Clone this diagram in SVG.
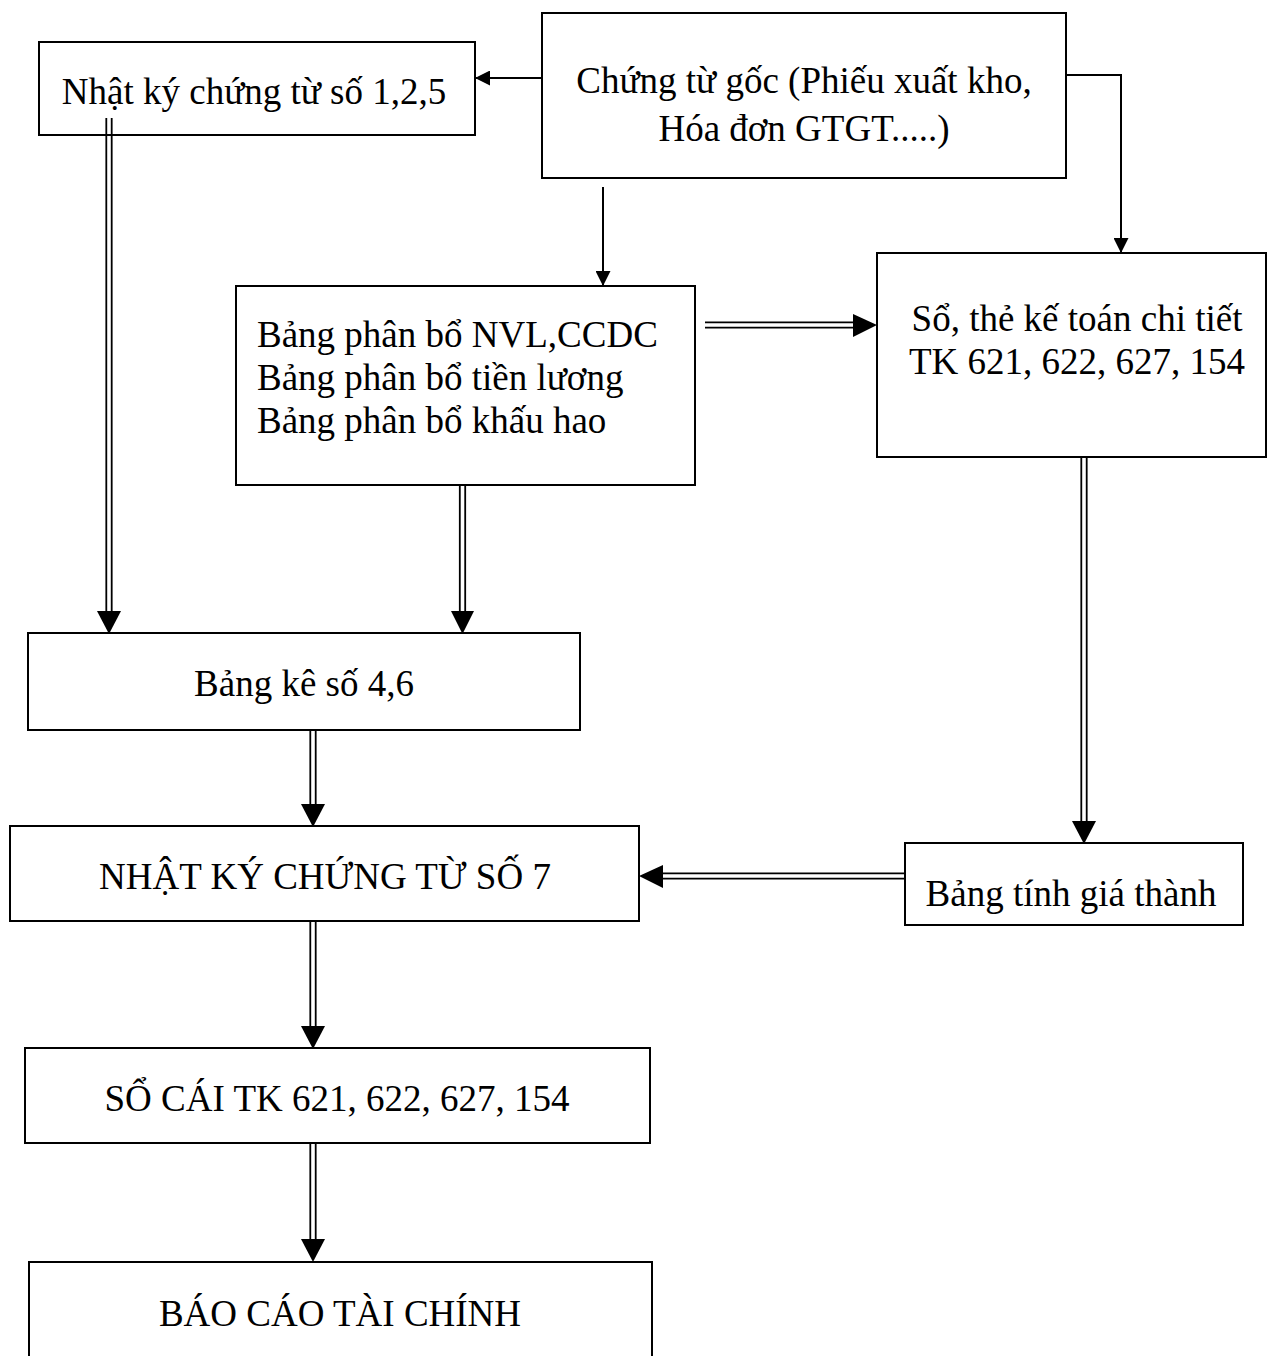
<svg xmlns="http://www.w3.org/2000/svg" width="1268" height="1356" viewBox="0 0 1268 1356">
<style>
.box{fill:#fff;stroke:#000;stroke-width:2}
.t{font-family:"Liberation Serif","Times New Roman",serif;font-size:37px;fill:#000}
.c{text-anchor:middle}
.ln{stroke:#000;stroke-width:2;fill:none}
.dl{stroke:#000;stroke-width:1.8;fill:none}
.ah{fill:#000}
</style>
<defs>
<marker id="arr" viewBox="0 0 10 10" refX="10" refY="5" markerWidth="15" markerHeight="15" markerUnits="userSpaceOnUse" orient="auto">
<path d="M0,0 L10,5 L0,10 Z" fill="#000"/>
</marker>
</defs>
<g id="connectors">
<line class="ln" x1="542" y1="78" x2="475" y2="78" marker-end="url(#arr)"/>
<line class="ln" x1="603" y1="187" x2="603" y2="286" marker-end="url(#arr)"/>
<polyline class="ln" points="1066,75 1121,75 1121,253" marker-end="url(#arr)"/>
<!-- double: Nhat ky 1,2,5 -> Bang ke -->
<line class="dl" x1="106.3" y1="118" x2="106.3" y2="612"/>
<line class="dl" x1="111.7" y1="118" x2="111.7" y2="612"/>
<polygon class="ah" points="97,611 121,611 109,634"/>
<!-- double: Bang phan bo -> Bang ke -->
<line class="dl" x1="459.8" y1="485" x2="459.8" y2="612"/>
<line class="dl" x1="465.2" y1="485" x2="465.2" y2="612"/>
<polygon class="ah" points="451,611 474,611 462.5,634"/>
<!-- double: Bang phan bo -> So the -->
<line class="dl" x1="705" y1="322.3" x2="855" y2="322.3"/>
<line class="dl" x1="705" y1="327.7" x2="855" y2="327.7"/>
<polygon class="ah" points="853,314 853,337 877,325"/>
<!-- double: So the -> Bang tinh -->
<line class="dl" x1="1081.3" y1="457" x2="1081.3" y2="822"/>
<line class="dl" x1="1086.7" y1="457" x2="1086.7" y2="822"/>
<polygon class="ah" points="1072,821 1096,821 1084,844"/>
<!-- double: Bang tinh -> Nhat ky 7 -->
<line class="dl" x1="905" y1="873.3" x2="661" y2="873.3"/>
<line class="dl" x1="905" y1="878.7" x2="661" y2="878.7"/>
<polygon class="ah" points="663,865 663,888 639,876"/>
<!-- double: Bang ke -> Nhat ky 7 -->
<line class="dl" x1="310.3" y1="730" x2="310.3" y2="805"/>
<line class="dl" x1="315.7" y1="730" x2="315.7" y2="805"/>
<polygon class="ah" points="301,804 325,804 313,827"/>
<!-- double: Nhat ky 7 -> So cai -->
<line class="dl" x1="310.3" y1="921" x2="310.3" y2="1027"/>
<line class="dl" x1="315.7" y1="921" x2="315.7" y2="1027"/>
<polygon class="ah" points="301,1026 325,1026 313,1049"/>
<!-- double: So cai -> Bao cao -->
<line class="dl" x1="310.3" y1="1143" x2="310.3" y2="1240"/>
<line class="dl" x1="315.7" y1="1143" x2="315.7" y2="1240"/>
<polygon class="ah" points="301,1239 325,1239 313,1262"/>
</g>
<g id="n-nhatky125">
<rect class="box" x="39" y="42" width="436" height="93" style="fill:none"/>
<text class="t c" x="254" y="104">Nhật ký chứng từ số 1,2,5</text>
</g>
<g id="n-chungtugoc">
<rect class="box" x="542" y="13" width="524" height="165"/>
<text class="t c" x="804" y="93">Chứng từ gốc (Phiếu xuất kho,</text>
<text class="t c" x="804" y="141">Hóa đơn GTGT.....)</text>
</g>
<g id="n-bangphanbo">
<rect class="box" x="236" y="286" width="459" height="199"/>
<text class="t" x="257" y="347">Bảng phân bổ NVL,CCDC</text>
<text class="t" x="257" y="390">Bảng phân bổ tiền lương</text>
<text class="t" x="257" y="433">Bảng phân bổ khấu hao</text>
</g>
<g id="n-sothe">
<rect class="box" x="877" y="253" width="389" height="204"/>
<text class="t c" x="1077" y="331">Sổ, thẻ kế toán chi tiết</text>
<text class="t c" x="1077" y="374">TK 621, 622, 627, 154</text>
</g>
<g id="n-bangke">
<rect class="box" x="28" y="633" width="552" height="97"/>
<text class="t c" x="304" y="696">Bảng kê số 4,6</text>
</g>
<g id="n-nhatky7">
<rect class="box" x="10" y="826" width="629" height="95"/>
<text class="t c" x="325" y="889">NHẬT KÝ CHỨNG TỪ SỐ 7</text>
</g>
<g id="n-bangtinh">
<rect class="box" x="905" y="843" width="338" height="82"/>
<text class="t c" x="1071" y="906">Bảng tính giá thành</text>
</g>
<g id="n-socai">
<rect class="box" x="25" y="1048" width="625" height="95"/>
<text class="t c" x="337" y="1111">SỔ CÁI TK 621, 622, 627, 154</text>
</g>
<g id="n-baocao">
<rect class="box" x="29" y="1262" width="623" height="120"/>
<text class="t c" x="340" y="1326">BÁO CÁO TÀI CHÍNH</text>
</g>
</svg>
